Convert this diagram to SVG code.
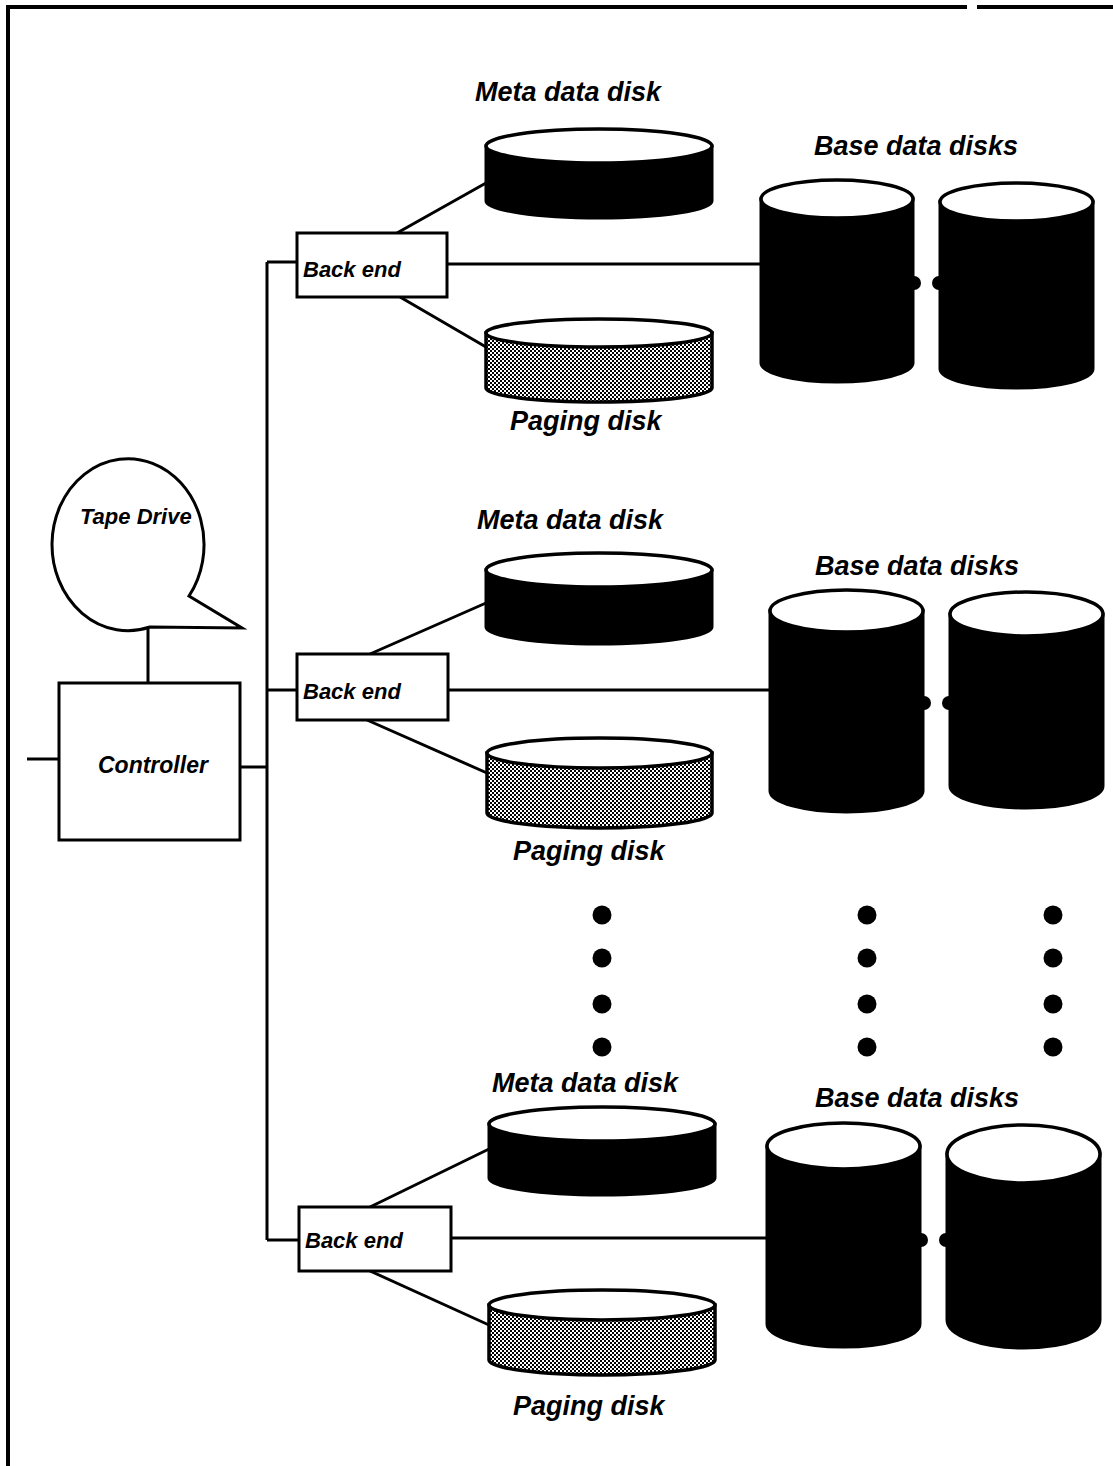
<svg xmlns="http://www.w3.org/2000/svg" width="1113" height="1466" viewBox="0 0 1113 1466">
<style>
.lbl{font-family:"Liberation Sans",Arial,sans-serif;font-weight:bold;font-style:italic;font-size:27px;fill:#000}
.sm{font-family:"Liberation Sans",Arial,sans-serif;font-weight:bold;font-style:italic;font-size:22px;fill:#000}
.ln{stroke:#000;stroke-width:3;fill:none}
.box{fill:#fff;stroke:#000;stroke-width:3}
.body{fill:#000;stroke:#000;stroke-width:3}
.pbody{fill:url(#dots);stroke:#000;stroke-width:3.5}
.top{fill:#fff;stroke:#000;stroke-width:3.5}
.dot{fill:#000}
</style>
<defs>
<pattern id="dots" width="4" height="4" patternUnits="userSpaceOnUse">
<rect width="4" height="4" fill="#fff"/>
<rect width="2" height="2" fill="#000"/>
<rect x="2" y="2" width="2" height="2" fill="#000"/>
</pattern>
</defs>
<rect width="1113" height="1466" fill="#fff"/>
<g id="frame">
<path class="ln" style="stroke-width:4" d="M8 1466 L8 7 L967 7 M977 7 L1113 7"/>
</g>
<g id="connectors">
<path class="ln" d="M267 262 L267 1240"/>
<path class="ln" d="M267 262 L297 262 M267 690 L297 690 M267 1240 L299 1240"/>
<path class="ln" d="M240 767 L267 767"/>
<path class="ln" d="M27 759 L59 759"/>
<path class="ln" d="M148 627 L148 683"/>
<path class="ln" d="M397 233 L486 183 M400 297 L486 347 M447 264 L761 264"/>
<path class="ln" d="M370 654 L486 603 M367 720 L487 773 M448 690 L770 690"/>
<path class="ln" d="M370 1207 L489 1149 M370 1271 L489 1325 M451 1238 L767 1238"/>
</g>
<g id="tape-drive">
<path class="box" d="M189 596 A76 86 0 1 0 150 627 L242 628 Z"/>
<text class="sm" x="80" y="524">Tape Drive</text>
</g>
<g id="controller">
<rect class="box" x="59" y="683" width="181" height="157"/>
<text class="sm" x="98" y="773" style="font-size:23px">Controller</text>
</g>
<g id="backend-1">
<rect class="box" x="297" y="233" width="150" height="64"/>
<text class="sm" x="303" y="277">Back end</text>
</g>
<g id="meta-1">
<text class="lbl" x="475" y="101">Meta data disk</text>
<path class="body" d="M486 146 L486 201 A113 17 0 0 0 712 201 L712 146 Z"/>
<ellipse class="top" cx="599" cy="146" rx="113" ry="17"/>
</g>
<g id="paging-1">
<path class="pbody" d="M486 333 L486 388 A113 14 0 0 0 712 388 L712 333 Z"/>
<ellipse class="top" cx="599" cy="333" rx="113" ry="14"/>
<text class="lbl" x="510" y="430">Paging disk</text>
</g>
<g id="base-1">
<text class="lbl" x="814" y="155">Base data disks</text>
<path class="body" d="M761 199 L761 363 A76 19 0 0 0 913 363 L913 199 Z"/>
<ellipse class="top" cx="837" cy="199" rx="76" ry="19"/>
<path class="body" d="M940 202 L940 369 A76.5 19 0 0 0 1093 369 L1093 202 Z"/>
<ellipse class="top" cx="1016.5" cy="202" rx="76.5" ry="19"/>
<circle class="dot" cx="914" cy="283" r="7"/>
<circle class="dot" cx="939" cy="283" r="7"/>
</g>
<g id="backend-2">
<rect class="box" x="297" y="654" width="151" height="66"/>
<text class="sm" x="303" y="699">Back end</text>
</g>
<g id="meta-2">
<text class="lbl" x="477" y="529">Meta data disk</text>
<path class="body" d="M486 570 L486 627 A113 17 0 0 0 712 627 L712 570 Z"/>
<ellipse class="top" cx="599" cy="570" rx="113" ry="17"/>
</g>
<g id="paging-2">
<path class="pbody" d="M487 753 L487 813 A112.5 15 0 0 0 712 813 L712 753 Z"/>
<ellipse class="top" cx="599.5" cy="753" rx="112.5" ry="15"/>
<text class="lbl" x="513" y="860">Paging disk</text>
</g>
<g id="base-2">
<text class="lbl" x="815" y="575">Base data disks</text>
<path class="body" d="M770 611 L770 791 A76.5 21 0 0 0 923 791 L923 611 Z"/>
<ellipse class="top" cx="846.5" cy="611" rx="76.5" ry="21"/>
<path class="body" d="M950 614 L950 786 A76.5 22 0 0 0 1103 786 L1103 614 Z"/>
<ellipse class="top" cx="1026.5" cy="614" rx="76.5" ry="22"/>
<circle class="dot" cx="924" cy="703" r="7"/>
<circle class="dot" cx="949" cy="703" r="7"/>
</g>
<g id="ellipsis-dots">
<circle class="dot" cx="602" cy="915" r="9.5"/>
<circle class="dot" cx="602" cy="958" r="9.5"/>
<circle class="dot" cx="602" cy="1004" r="9.5"/>
<circle class="dot" cx="602" cy="1047" r="9.5"/>
<circle class="dot" cx="867" cy="915" r="9.5"/>
<circle class="dot" cx="867" cy="958" r="9.5"/>
<circle class="dot" cx="867" cy="1004" r="9.5"/>
<circle class="dot" cx="867" cy="1047" r="9.5"/>
<circle class="dot" cx="1053" cy="915" r="9.5"/>
<circle class="dot" cx="1053" cy="958" r="9.5"/>
<circle class="dot" cx="1053" cy="1004" r="9.5"/>
<circle class="dot" cx="1053" cy="1047" r="9.5"/>
</g>
<g id="backend-3">
<rect class="box" x="299" y="1207" width="152" height="64"/>
<text class="sm" x="305" y="1248">Back end</text>
</g>
<g id="meta-3">
<text class="lbl" x="492" y="1092">Meta data disk</text>
<path class="body" d="M489 1124 L489 1178 A113 17 0 0 0 715 1178 L715 1124 Z"/>
<ellipse class="top" cx="602" cy="1124" rx="113" ry="17"/>
</g>
<g id="paging-3">
<path class="pbody" d="M489 1305 L489 1360 A113 15 0 0 0 715 1360 L715 1305 Z"/>
<ellipse class="top" cx="602" cy="1305" rx="113" ry="15"/>
<text class="lbl" x="513" y="1415">Paging disk</text>
</g>
<g id="base-3">
<text class="lbl" x="815" y="1107">Base data disks</text>
<path class="body" d="M767 1146 L767 1324 A76.5 23 0 0 0 920 1324 L920 1146 Z"/>
<ellipse class="top" cx="843.5" cy="1146" rx="76.5" ry="23"/>
<path class="body" d="M947 1154 L947 1320 A76.5 28 0 0 0 1100 1320 L1100 1154 Z"/>
<ellipse class="top" cx="1023.5" cy="1154" rx="76.5" ry="29"/>
<circle class="dot" cx="921" cy="1240" r="7"/>
<circle class="dot" cx="946" cy="1240" r="7"/>
</g>
</svg>
